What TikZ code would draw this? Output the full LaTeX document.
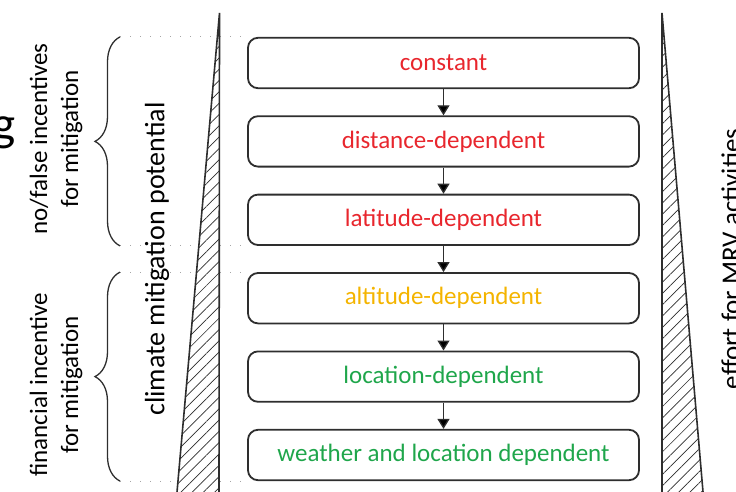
\documentclass[tikz,border=0pt]{standalone}
\usepackage{fontspec}
\setmainfont{Carlito}
\usetikzlibrary{positioning,arrows.meta,decorations.pathreplacing,patterns.meta}

\definecolor{lvlred}{HTML}{E8262D}
\definecolor{lvlyellow}{HTML}{F4B400}
\definecolor{lvlgreen}{HTML}{1FA64B}
\definecolor{linegray}{HTML}{2E2E2E}

\begin{document}
\begin{tikzpicture}[
    x = 1pt, y = 1pt,
    > = {Triangle[width=12pt, length=10pt]},
    node distance = 26.2pt,
    level/.style={rectangle, rounded corners=10pt, draw=linegray, line width=1.8pt, minimum width=391pt, minimum height=50.4pt, font=\fontsize{25}{30}\selectfont},
    label/.style={rotate=90, align=center, font=\fontsize{25}{31}\selectfont, inner sep=0pt},
    guide/.style={gray!70, line width=1.1pt, dash pattern=on 1.1pt off 8.9pt},
    bracket/.style={decorate, decoration={brace, amplitude=25pt, aspect=0.5}, line width=1.3pt, draw=linegray},
    wedge/.style={draw=linegray, line width=1.6pt, preaction={fill=white}, pattern={Lines[angle=45, distance=8pt, line width=0.7pt]}, pattern color=linegray}
]
\clip (0,0) rectangle (736,-492);

% Levels
\node[level, text=lvlred] (const) at (443.5,-63) {constant};
\node[level, text=lvlred] (dist) [below=of const] {distance-dependent};
\node[level, text=lvlred] (lat) [below=of dist] {latitude-dependent};
\node[level, text=lvlyellow] (alt) [below=of lat] {altitude-dependent};
\node[level, text=lvlgreen] (loc) [below=of alt] {location-dependent};
\node[level, text=lvlgreen] (wloc) [below=of loc] {weather and location dependent};

\path[->, line width=1.3pt, draw=linegray]
    (const) edge (dist)
    (dist) edge (lat)
    (lat) edge (alt)
    (alt) edge (loc)
    (loc) edge (wloc);

% Group limits
\coordinate (gx) at (120,0);
\draw[guide] (const.north west -| gx) -- (const.north west);
\draw[guide] (lat.south west -| gx) -- (lat.south west);
\draw[guide] (alt.north west -| gx) -- (alt.north west);
\draw[guide] (wloc.south west -| gx) -- (wloc.south west);

% Wedges
\coordinate (ltop) at (219.5,-13);
\coordinate (rtop) at (662,-13);
\draw[wedge] (ltop) -- (219,-500) -- (176.3,-500) -- cycle;
\draw[wedge] (rtop) -- (703.7,-500) -- (662,-500) -- cycle;

% Brackets
\draw[bracket] (lat.south west -| gx) -- (const.north west -| gx);
\draw[bracket] (wloc.south west -| gx) -- (alt.north west -| gx);

% Labels
\node[label] (nofalse) at (56,-139) {no/false incentives\\for mitigation};
\node[label] (financial) at (56,-385) {financial incentive\\for mitigation};
\node[label, font=\fontsize{28}{34}\selectfont] (potential) at (157,-259) {climate mitigation potential};
\node[label, font=\fontsize{27}{32}\selectfont] (effort) at (731,-259) {effort for MRV activities};
\node[anchor=base east, inner sep=0pt, font=\fontsize{49}{56}\selectfont] (cut) at (16,-141) {g};

\end{tikzpicture}
\end{document}
